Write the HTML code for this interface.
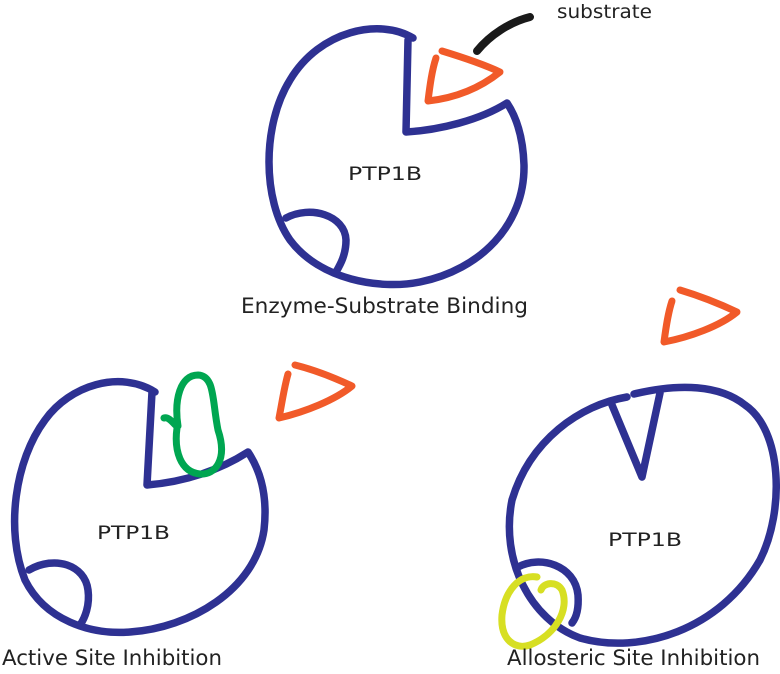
<!DOCTYPE html>
<html><head><meta charset="utf-8"><style>
html,body{margin:0;padding:0;background:#fff;}
svg{display:block}
text{font-family:"DejaVu Sans","Liberation Sans",sans-serif;fill:#222;}
</style></head><body>
<svg width="780" height="674" viewBox="0 0 780 674" xmlns="http://www.w3.org/2000/svg">
<g fill="none" stroke-linecap="round" stroke-linejoin="round">
<path stroke="#2e3192" stroke-width="7.5" d="M413,38 C380,18 320,30 290,80 C262,125 262,200 290,240 C320,280 380,290 420,282 C480,270 525,225 524,165 C523,135 515,115 507,103 C480,120 440,130 406,132 L408,40"/>
<path stroke="#2e3192" stroke-width="7.5" d="M286,218 C310,205 345,215 346,240 C346,255 340,265 336,272"/>
<path stroke="#f15a29" stroke-width="7" d="M442,51 C465,58 485,65 500,72 C480,88 455,98 428,101 C430,85 432,70 436,58"/>
<path stroke="#1a1a1a" stroke-width="8" d="M477,51 C490,35 510,22 530,17"/>
<path stroke="#2e3192" stroke-width="7.5" d="M155,392 C120,370 70,385 45,420 C15,460 5,530 25,580 C45,620 90,635 130,632 C190,628 255,590 264,530 C268,495 260,470 248,452 C220,470 185,482 147,485 L152,392"/>
<path stroke="#2e3192" stroke-width="7.5" d="M29,570 C55,555 85,565 88,590 C90,605 85,618 80,625"/>
<path stroke="#00a651" stroke-width="7" d="M164,418 C170,416 176,428 178,426 C174,400 180,375 198,375 C215,376 212,400 218,430 C228,460 215,475 200,474 C180,472 174,450 177,428"/>
<path stroke="#f15a29" stroke-width="7" d="M295,365 C315,370 335,378 352,386 C335,400 305,412 279,418 C282,403 284,388 288,374"/>
<path stroke="#2e3192" stroke-width="7.5" d="M627,397 C580,405 530,440 512,500 C500,560 530,620 580,638 C640,655 720,630 760,560 C785,510 782,430 745,405 C720,385 680,383 634,394"/>
<path stroke="#2e3192" stroke-width="7.5" d="M612,405 L642,477 L660,393"/>
<path stroke="#2e3192" stroke-width="7.5" d="M518,567 C540,555 575,565 578,595 C579,610 576,618 572,623"/>
<path stroke="#d7df23" stroke-width="7" d="M537,577 C520,574 505,590 502,615 C500,640 515,650 530,645 C555,635 570,610 562,590 C556,580 543,583 541,590"/>
<path stroke="#f15a29" stroke-width="7" d="M680,290 C700,296 720,304 737,312 C720,326 690,337 664,342 C666,327 668,313 672,301"/>
</g>
<text x="557" y="18" font-size="19" textLength="95" lengthAdjust="spacingAndGlyphs">substrate</text>
<text x="348" y="180" font-size="19" textLength="74" lengthAdjust="spacingAndGlyphs">PTP1B</text>
<text x="241" y="313" font-size="21" textLength="287" lengthAdjust="spacingAndGlyphs">Enzyme-Substrate Binding</text>
<text x="97" y="539" font-size="19" textLength="73" lengthAdjust="spacingAndGlyphs">PTP1B</text>
<text x="608" y="546" font-size="19" textLength="74" lengthAdjust="spacingAndGlyphs">PTP1B</text>
<text x="2" y="665" font-size="21" textLength="220" lengthAdjust="spacingAndGlyphs">Active Site Inhibition</text>
<text x="507" y="665" font-size="21" textLength="253" lengthAdjust="spacingAndGlyphs">Allosteric Site Inhibition</text>
</svg>
</body></html>
